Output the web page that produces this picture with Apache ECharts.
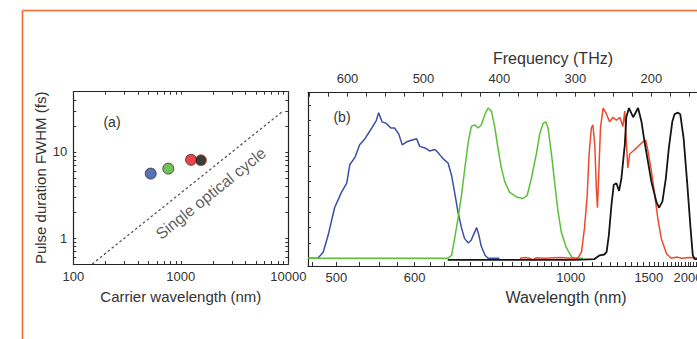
<!DOCTYPE html>
<html><head><meta charset="utf-8">
<script src="https://cdn.jsdelivr.net/npm/echarts@6/dist/echarts.min.js"></script>
<style>html,body{margin:0;padding:0;background:#fff;}#c{width:697px;height:339px;}</style>
</head><body><div id="c"></div>
<script>
// ---- Panel (a): pulse duration vs carrier wavelength ----
const pointWavelength = [525, 765, 1245, 1540];        // nm
const pointDuration   = [5.6, 6.4, 8.1, 8.0];          // fs
const cycleWavelength = [150, 9000];                   // single optical cycle line (nm)
const cycleDuration   = [0.5, 30];                     // fs
const carrierLabels   = [100, 1000, 10000];
const carrierTicks    = [100,200,300,400,500,600,700,800,900,1000,2000,3000,4000,5000,6000,7000,8000,9000,10000];
const durationLabels  = [1, 10];
const durationTicks   = [0.5,0.6,0.7,0.8,0.9,1,2,3,4,5,6,7,8,9,10,20,30,40,50];

// ---- Panel (b): spectra vs frequency (THz) ----
const freqLabels = [600, 500, 400, 300, 200];
const freqTicks  = [650,625,600,575,550,525,500,475,450,425,400,375,350,325,300,275,250,225,200,175,150,125];
const waveLabels = [500, 600, 1000, 1500, 2000];
const waveTicks  = [475,500,525,550,575,600,625,650,675,700,725,750,775,800,825,850,875,900,925,950,975,1000,
                    1050,1100,1150,1200,1250,1300,1350,1400,1450,1500,1550,1600,1650,1700,1750,1800,1850,1900,1950,2000,2050,2100,2150,2200];
const intensityTicks = [0,0.1,0.2,0.3,0.4,0.5,0.6,0.7,0.8,0.9,1.0];

const blueFreq = [652,639,632,625.5,617,608,601,597,590,584,577,568,562,559,554.5,549,543,538,532.5,528,522,516,509,505,498,492,485,481,476,472,467.5,463,459,454.5,450,446,441,437,434.5,430,427,424,419,415,400];
const blueInt  = [0,0,0.04,0.15,0.33,0.43,0.49,0.61,0.66,0.74,0.78,0.85,0.90,0.95,0.89,0.88,0.85,0.85,0.81,0.74,0.76,0.77,0.78,0.73,0.72,0.70,0.71,0.69,0.66,0.64,0.62,0.54,0.43,0.30,0.20,0.13,0.10,0.12,0.15,0.20,0.15,0.08,0.02,0,0];

const greenFreq = [652,468,463,459,454.5,450,445.5,441,437,432.5,428,424,419,415,410.5,406,402,397.5,393,386.5,377.5,369,363.5,358,351.5,347,342.5,339,336,331.5,327,323,318.5,312,305,301,290];
const greenInt  = [0,0,0.02,0.13,0.26,0.41,0.59,0.76,0.86,0.87,0.85,0.87,0.94,0.98,0.96,0.85,0.72,0.59,0.50,0.43,0.40,0.39,0.41,0.52,0.68,0.81,0.88,0.89,0.85,0.68,0.48,0.31,0.17,0.07,0.01,0,0];

const redFreq = [373,366,360,356,352,340,320,305,297,292,288,284.5,282,279,277,274.5,272.5,271,269.5,267,263.5,259,255,250.5,246,241.5,237.5,235,233,231,228.5,224,219.5,215.5,211,207.5,204.5,200,195.5,191.5,187,180,174,166,160,150,130];
const redInt  = [0,0.005,0,-0.012,0.004,0,0.005,0,0,0.04,0.20,0.41,0.68,0.85,0.87,0.74,0.46,0.33,0.52,0.85,0.98,0.94,0.89,0.92,0.90,0.92,0.86,0.96,0.76,0.59,0.68,0.70,0.72,0.74,0.76,0.77,0.70,0.57,0.41,0.26,0.13,0.03,0,0.008,0,0.005,0];

const blackFreq = [468,300,275,268,262,259,256,252.5,249.5,246,242.5,239.5,235,233,229.5,224,217.5,213,209,204.5,200,193.5,190,185.5,181,177,172.5,169.5,165,162,157.5,153,148.5,145.5,143,130];
const blackInt  = [-0.01,-0.01,-0.005,0.02,0.025,0.04,0.15,0.35,0.48,0.49,0.44,0.52,0.74,0.92,0.98,0.92,0.98,0.89,0.76,0.63,0.50,0.37,0.33,0.37,0.52,0.72,0.89,0.94,0.95,0.94,0.78,0.50,0.20,0.02,-0.005,-0.005];

const C_NM_THZ = 299792.458;

function zip(a, b) { return a.map((v, i) => [v, b[i]]); }

const FONT = "'Liberation Sans Narrow','Arial Narrow','Liberation Sans',Arial,sans-serif";
const TFONT = "'Liberation Sans',Arial,Helvetica,sans-serif";
const TXT = '#333';
const axisLine = { show: true, onZero: false, lineStyle: { color: '#222', width: 1.2 } };
const tickStyle = { color: '#333', width: 1 };
const labelStyle = { fontSize: 13, fontFamily: FONT, color: TXT };
const nameStyle = (sz) => ({ fontSize: sz, fontFamily: TFONT, color: TXT });

const chart = echarts.init(document.getElementById('c'), null, { renderer: 'svg' });

const pointColors = ['#2d4ea3', '#4fb232', '#e8151b', '#0a0a0a'];
const pointBorders = ['#333', '#333', '#333', '#c8442a'];

chart.setOption({
  animation: false,
  backgroundColor: '#fff',
  textStyle: { fontFamily: TFONT },
  grid: [
    { left: 73.3, top: 91.7, width: 215, height: 172.3, outerBoundsMode: 'none', containLabel: false },
    { left: 308, top: 92.7, width: 490, height: 173.3, outerBoundsMode: 'none', containLabel: false }
  ],
  xAxis: [
    { type: 'log', logBase: 10, gridIndex: 0, position: 'bottom', min: 100, max: 10000,
      axisLine: axisLine, splitLine: { show: false },
      axisTick: { show: true, inside: true, length: 3, lineStyle: tickStyle, customValues: carrierTicks },
      axisLabel: Object.assign({ customValues: carrierLabels, margin: 6, formatter: v => String(Math.round(v)) }, labelStyle),
      name: 'Carrier wavelength (nm)', nameLocation: 'middle', nameGap: 25, nameTextStyle: nameStyle(15) },
    { type: 'log', logBase: 10, gridIndex: 0, position: 'top', min: 100, max: 10000,
      axisLine: axisLine, splitLine: { show: false },
      axisTick: { show: true, inside: true, length: 3, lineStyle: tickStyle, customValues: carrierTicks },
      axisLabel: { show: false } },
    { type: 'value', gridIndex: 1, position: 'top', min: 7, max: 652, inverse: true,
      axisLine: axisLine, splitLine: { show: false },
      axisTick: { show: true, inside: true, length: 4, lineStyle: tickStyle, customValues: freqTicks },
      axisLabel: Object.assign({ customValues: freqLabels, margin: 8, formatter: v => String(Math.round(v)) }, labelStyle),
      name: 'Frequency (THz)', nameLocation: 'middle', nameGap: 24, nameTextStyle: nameStyle(16) },
    { type: 'value', gridIndex: 1, position: 'bottom', min: 9, max: 636, inverse: true,
      axisLine: axisLine, splitLine: { show: false },
      axisTick: { show: true, inside: true, length: 4, lineStyle: tickStyle, customValues: waveTicks.map(l => C_NM_THZ / l) },
      axisLabel: Object.assign({ customValues: waveLabels.map(l => C_NM_THZ / l), margin: 5, formatter: v => String(Math.round(C_NM_THZ / v)) }, labelStyle),
      name: 'Wavelength (nm)', nameLocation: 'middle', nameGap: 23, nameTextStyle: Object.assign({ padding: [0, 0, 0, 26] }, nameStyle(16)) }
  ],
  yAxis: [
    { type: 'log', logBase: 10, gridIndex: 0, position: 'left', min: 0.5, max: 50,
      axisLine: axisLine, splitLine: { show: false },
      axisTick: { show: true, inside: true, length: 3, lineStyle: tickStyle, customValues: durationTicks },
      axisLabel: Object.assign({ customValues: durationLabels, margin: 6, formatter: v => String(Math.round(v)) }, labelStyle),
      name: 'Pulse duration FWHM (fs)', nameLocation: 'middle', nameGap: 25, nameRotate: 90, nameTextStyle: nameStyle(15) },
    { type: 'log', logBase: 10, gridIndex: 0, position: 'right', min: 0.5, max: 50,
      axisLine: axisLine, splitLine: { show: false },
      axisTick: { show: true, inside: true, length: 3, lineStyle: tickStyle, customValues: durationTicks },
      axisLabel: { show: false } },
    { type: 'value', gridIndex: 1, position: 'left', min: -0.05, max: 1.08,
      axisLine: axisLine, splitLine: { show: false },
      axisTick: { show: true, inside: true, length: 3, lineStyle: tickStyle, customValues: intensityTicks },
      axisLabel: { show: false } }
  ],
  series: [
    { type: 'line', xAxisIndex: 0, yAxisIndex: 0, data: zip(cycleWavelength, cycleDuration),
      showSymbol: false, symbol: 'none', lineStyle: { color: '#555', width: 1.3, type: [2.5, 2.5] }, z: 2 },
    { type: 'scatter', xAxisIndex: 0, yAxisIndex: 0, symbolSize: 11, z: 3,
      data: pointWavelength.map((w, i) => ({ value: [w, pointDuration[i]],
        itemStyle: { color: pointColors[i], borderColor: pointBorders[i], borderWidth: 1 } })) },
    { type: 'scatter', xAxisIndex: 0, yAxisIndex: 0, symbolSize: 1, silent: true, z: 4,
      itemStyle: { color: 'transparent' },
      data: [[1900, 3.3]],
      label: { show: true, position: 'inside', formatter: 'Single optical cycle', rotate: 38.7,
               fontSize: 16, fontFamily: TFONT, color: TXT } },
    { type: 'line', xAxisIndex: 2, yAxisIndex: 2, data: zip(blueFreq, blueInt), showSymbol: false, symbol: 'none',
      lineStyle: { color: '#3b4fa6', width: 1.5 }, z: 3 },
    { type: 'line', xAxisIndex: 2, yAxisIndex: 2, data: zip(greenFreq, greenInt), showSymbol: false, symbol: 'none',
      lineStyle: { color: '#5cbf3a', width: 1.5 }, z: 3 },
    { type: 'line', xAxisIndex: 2, yAxisIndex: 2, data: zip(redFreq, redInt), showSymbol: false, symbol: 'none',
      lineStyle: { color: '#ec4a2e', width: 1.5 }, z: 3 },
    { type: 'line', xAxisIndex: 2, yAxisIndex: 2, data: zip(blackFreq, blackInt), showSymbol: false, symbol: 'none',
      lineStyle: { color: '#151515', width: 1.8 }, z: 4 }
  ],
  graphic: [
    { type: 'line', shape: { x1: 22.5, y1: 10.5, x2: 697, y2: 10.5 }, style: { stroke: '#f26a2e', lineWidth: 1.6 } },
    { type: 'line', shape: { x1: 22.5, y1: 10.5, x2: 22.5, y2: 339 }, style: { stroke: '#f26a2e', lineWidth: 1.6 } },
    { type: 'text', x: 112, y: 122, style: { text: '(a)', fontSize: 14, fontFamily: TFONT, fill: TXT, align: 'center', verticalAlign: 'middle' } },
    { type: 'text', x: 342, y: 117, style: { text: '(b)', fontSize: 14, fontFamily: TFONT, fill: TXT, align: 'center', verticalAlign: 'middle' } }
  ]
});
</script>
</body></html>
